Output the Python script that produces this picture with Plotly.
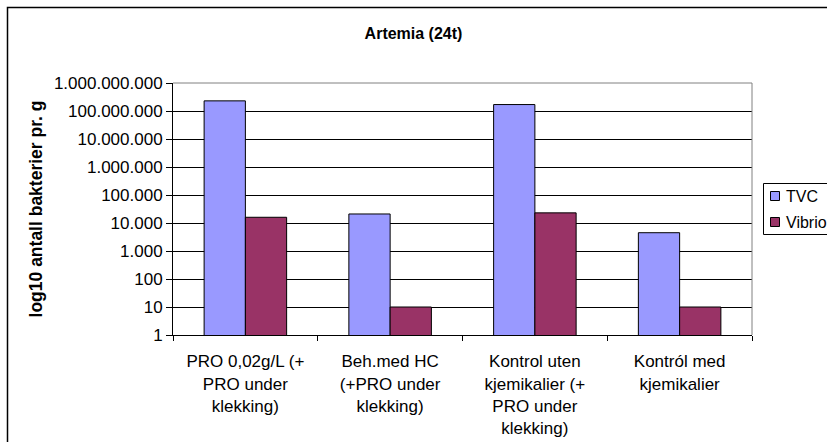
import plotly.graph_objects as go

categories = [
    "PRO 0,02g/L (+<br>PRO under<br>klekking)",
    "Beh.med HC<br>(+PRO under<br>klekking)",
    "Kontrol uten<br>kjemikalier (+<br>PRO under<br>klekking)",
    "Kontról med<br>kjemikalier",
]
series_names = ["TVC", "Vibrio"]
series_colors = ["#9999FF", "#993366"]
tvc = [2.3e8, 2.1e4, 1.7e8, 4.5e3]
vibrio = [1.6e4, 10, 2.3e4, 10]
tick_vals = [1, 10, 100, 1e3, 1e4, 1e5, 1e6, 1e7, 1e8, 1e9]
tick_text = ["1", "10", "100", "1.000", "10.000", "100.000", "1.000.000",
             "10.000.000", "100.000.000", "1.000.000.000"]

W, H = 827, 442
L, R, T, B = 173, 752, 83, 335
pw, ph = R - L, B - T

def px_x(x):
    return (x - L) / pw

def px_y(y):
    return (B - y) / ph

font = "Liberation Sans, Arial, sans-serif"

fig = go.Figure()
for name, vals, col in zip(series_names, [tvc, vibrio], series_colors):
    fig.add_trace(go.Bar(name=name, x=categories, y=vals,
                         marker=dict(color=col, line=dict(color="black", width=1))))

fig.update_layout(
    width=W, height=H,
    margin=dict(l=L, r=W - R, t=T, b=H - B, pad=0, autoexpand=False),
    paper_bgcolor="white", plot_bgcolor="white",
    barmode="group", bargap=0.43, bargroupgap=0,
    font=dict(family=font, size=17, color="black"),
    title=dict(text="<b>Artemia (24t)</b>", x=0.5, xanchor="center",
               y=1 - 33 / H, yanchor="middle", font=dict(size=16)),
    showlegend=False,
)
fig.update_xaxes(
    type="category", tickson="boundaries", ticks="outside", ticklen=5,
    tickcolor="black", showline=True, linecolor="black", linewidth=1,
    mirror=False, showgrid=False, tickfont=dict(size=17), ticklabelstandoff=11,
)
fig.update_yaxes(
    type="log", range=[0, 9], tickvals=tick_vals, ticktext=tick_text,
    ticks="outside", ticklen=6, tickcolor="black",
    showline=True, linecolor="black", linewidth=1,
    showgrid=True, gridcolor="black", gridwidth=1,
    tickfont=dict(size=17),
    title=dict(text="<b>log10 antall bakterier pr. g</b>", font=dict(size=17.5), standoff=6),
)
# plot area border (gray top/right)
fig.add_shape(type="line", xref="paper", yref="paper", x0=0, x1=1, y0=1, y1=1,
              line=dict(color="#808080", width=1))
fig.add_shape(type="line", xref="paper", yref="paper", x0=1, x1=1, y0=0, y1=1,
              line=dict(color="#808080", width=1))
# outer chart border
fig.add_shape(type="rect", xref="paper", yref="paper",
              x0=px_x(7.5), x1=px_x(900), y0=px_y(7.5), y1=px_y(500),
              line=dict(color="black", width=1.5), fillcolor="rgba(0,0,0,0)", layer="above")

# legend (drawn manually; it runs off the right edge as in the reference)
fig.add_shape(type="rect", xref="paper", yref="paper",
              x0=px_x(763.5), x1=px_x(900), y0=px_y(183.5), y1=px_y(234.5),
              line=dict(color="black", width=1), fillcolor="white", layer="above")
for i, (name, col) in enumerate(zip(series_names, series_colors)):
    cy = 196 + 26 * i
    fig.add_shape(type="rect", xref="paper", yref="paper",
                  x0=px_x(770.5), x1=px_x(779.5), y0=px_y(cy - 4.5), y1=px_y(cy + 4.5),
                  line=dict(color="black", width=1), fillcolor=col, layer="above")
    fig.add_annotation(xref="paper", yref="paper", x=px_x(784), y=px_y(cy),
                       xanchor="left", yanchor="middle", text=name, showarrow=False,
                       font=dict(size=16))

fig.write_html("out.html", config={"displayModeBar": False},
               post_script="document.body.style.margin='0';document.body.style.overflow='hidden';")
